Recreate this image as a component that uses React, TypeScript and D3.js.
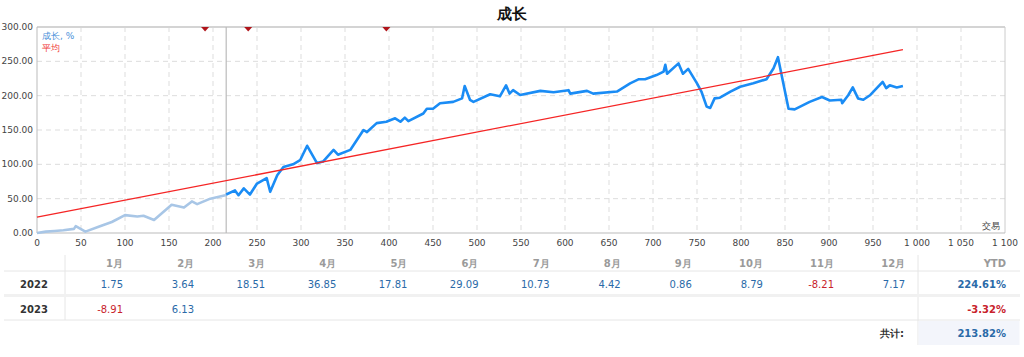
import React from "react";
import * as d3 from "d3";

const title = "成长";
const trades = [0, 10, 20, 30, 42, 44, 48, 55, 70, 85, 100, 114, 121, 133, 153, 167, 176, 182, 197, 214, 215, 225, 229, 235, 242, 250, 261, 265, 273, 280, 291, 299, 307, 318, 325, 337, 342, 356, 371, 375, 386, 397, 407, 413, 418, 422, 439, 443, 450, 458, 473, 483, 486, 492, 496, 515, 526, 533, 537, 541, 549, 572, 587, 604, 606, 625, 632, 659, 674, 684, 691, 704, 712, 714, 716, 729, 734, 740, 750, 755, 761, 765, 770, 776, 788, 799, 814, 829, 837, 842, 854, 861, 878, 892, 901, 914, 915, 922, 927, 933, 939, 947, 961, 965, 969, 977, 984];
const growth = [0, 2, 3, 4, 6, 10, 7, 2, 9, 16, 26, 24, 25, 19, 41, 37, 46, 42, 50, 55, 56, 62, 55, 65, 56, 72, 80, 60, 84, 96, 100, 106, 127, 102, 104, 121, 114, 121, 150, 147, 160, 162, 167, 162, 168, 163, 174, 181, 181, 189, 191, 196, 214, 194, 191, 202, 199, 215, 203, 208, 201, 207, 205, 208, 203, 207, 203, 206, 218, 224, 224, 230, 235, 245, 232, 247, 232, 239, 218, 206, 184, 182, 196, 197, 206, 213, 218, 224, 240, 256, 181, 180, 191, 198, 193, 194, 189, 201, 212, 196, 194, 201, 220, 211, 215, 212, 214];
const splitTrade = 215;
const avgTrades = [0, 984];
const avgValues = [23, 267];
const markerTrades = [191, 240, 397];
const xTicks = [0, 50, 100, 150, 200, 250, 300, 350, 400, 450, 500, 550, 600, 650, 700, 750, 800, 850, 900, 950, 1000, 1050, 1100];
const yTicks = [0, 50, 100, 150, 200, 250, 300];

const months = ["1月", "2月", "3月", "4月", "5月", "6月", "7月", "8月", "9月", "10月", "11月", "12月"];
const years = ["2022", "2023"];
const values2022 = ["1.75", "3.64", "18.51", "36.85", "17.81", "29.09", "10.73", "4.42", "0.86", "8.79", "-8.21", "7.17"];
const values2023 = ["-8.91", "6.13"];
const ytd = ["224.61%", "-3.32%"];
const totalLabel = "共计:";
const totalValue = "213.82%";

const FONT = "Tahoma, 'DejaVu Sans', sans-serif";
const BLUE_TXT = "#2a6aa8";
const RED_TXT = "#c8232c";

export default function App() {
  const W = 1024, H = 357;
  const x = d3.scaleLinear().domain([0, 1100]).range([37, 1005]);
  const y = d3.scaleLinear().domain([0, 300]).range([233, 27]);
  const pts = trades.map((t, i) => [t, growth[i]] as [number, number]);
  const before = pts.filter((p) => p[0] <= splitTrade);
  const after = pts.filter((p) => p[0] >= splitTrade);
  const line = d3.line<[number, number]>().x((d) => x(d[0])).y((d) => y(d[1]));
  const avgPts = avgTrades.map((t, i) => [t, avgValues[i]] as [number, number]);
  const fmtX = (v: number) => (v >= 1000 ? `${Math.floor(v / 1000)} ${String(v % 1000).padStart(3, "0")}` : String(v));

  const colRight = (i: number) => 123 + i * 71.1;
  const rows = [values2022, values2023];
  const rowY = [284, 309];

  return (
    <svg width={W} height={H} style={{ position: "absolute", left: 0, top: 0, fontFamily: FONT }}>
      <rect x={0} y={0} width={W} height={H} fill="#fff" />
      <text x={512} y={19} textAnchor="middle" fontSize={15} fontWeight="bold" fill="#111">{title}</text>
      {/* grid */}
      {xTicks.slice(1, -1).map((t) => (
        <line key={"gx" + t} x1={x(t)} x2={x(t)} y1={y(300)} y2={y(0)} stroke="#ddd" strokeDasharray="5,4" />
      ))}
      {yTicks.slice(1, -1).map((t) => (
        <line key={"gy" + t} x1={x(0)} x2={x(1100)} y1={y(t)} y2={y(t)} stroke="#ddd" strokeDasharray="5,4" />
      ))}
      {/* frame */}
      <line x1={x(0)} x2={x(1100)} y1={y(300)} y2={y(300)} stroke="#d4d4d4" strokeWidth={2} />
      <line x1={x(1100)} x2={x(1100)} y1={y(300)} y2={y(0)} stroke="#ccc" />
      <line x1={x(0)} x2={x(0)} y1={y(300)} y2={y(0)} stroke="#bbb" />
      <line x1={x(0)} x2={x(1100)} y1={y(0)} y2={y(0)} stroke="#bbb" />
      {/* ticks */}
      {xTicks.map((t) => (
        <text key={"tx" + t} x={x(t)} y={246} textAnchor="middle" fontSize={9} fill="#444">{fmtX(t)}</text>
      ))}
      {yTicks.map((t) => (
        <text key={"ty" + t} x={33} y={y(t) + 3} textAnchor="end" fontSize={9} fill="#444">{t.toFixed(2)}</text>
      ))}
      {/* split line */}
      <line x1={x(splitTrade)} x2={x(splitTrade)} y1={y(300)} y2={y(0)} stroke="#bbb" strokeWidth={1.2} />
      {/* series */}
      <path d={line(before) || ""} fill="none" stroke="#a8c6e6" strokeWidth={2.6} strokeLinejoin="round" />
      <path d={line(after) || ""} fill="none" stroke="#1a8cf5" strokeWidth={2.6} strokeLinejoin="round" />
      <path d={line(avgPts) || ""} fill="none" stroke="#f52525" strokeWidth={1.3} />
      {/* markers */}
      {markerTrades.map((t) => (
        <path key={"m" + t} d={`M${x(t) - 4},${y(300)} L${x(t) + 4},${y(300)} L${x(t)},${y(300) + 4.5} Z`} fill="#b0141a" />
      ))}
      {/* legend */}
      <text x={42} y={39} fontSize={9} fill="#4a90d9">成长, %</text>
      <text x={42} y={51} fontSize={9} fill="#f03a3a">平均</text>
      <text x={1000} y={229} textAnchor="end" fontSize={9} fill="#444">交易</text>

      {/* table */}
      <line x1={65} x2={65} y1={255} y2={320} stroke="#e6e6e6" />
      <line x1={918} x2={918} y1={255} y2={345} stroke="#e6e6e6" />
      <rect x={918.5} y={321} width={101} height={24} fill="#f3f5fb" />
      <line x1={4} x2={1020} y1={271} y2={271} stroke="#e6e6e6" />
      <rect x={4} y={294} width={1016} height={3} fill="#f1f1f1" />
      <line x1={4} x2={1020} y1={320} y2={320} stroke="#e6e6e6" />
      {months.map((m, i) => (
        <text key={"mh" + i} x={colRight(i)} y={267} textAnchor="end" fontSize={10} fontWeight="bold" fill="#9a9a9a">{m}</text>
      ))}
      <text x={1006} y={267} textAnchor="end" fontSize={10} fontWeight="bold" fill="#9a9a9a">YTD</text>
      {years.map((yr, r) => (
        <text key={"yr" + yr} x={34} y={rowY[r] + 4} textAnchor="middle" fontSize={10} fontWeight="bold" fill="#333">{yr}</text>
      ))}
      {rows.map((vals, r) =>
        vals.map((v, i) => (
          <text key={`v${r}-${i}`} x={colRight(i)} y={rowY[r] + 4} textAnchor="end" fontSize={10} fill={v.startsWith("-") ? RED_TXT : BLUE_TXT}>{v}</text>
        ))
      )}
      {ytd.map((v, r) => (
        <text key={"ytd" + r} x={1006} y={rowY[r] + 4} textAnchor="end" fontSize={10} fontWeight="bold" fill={v.startsWith("-") ? RED_TXT : BLUE_TXT}>{v}</text>
      ))}
      <text x={904} y={337} textAnchor="end" fontSize={10} fontWeight="bold" fill="#333">{totalLabel}</text>
      <text x={1006} y={337} textAnchor="end" fontSize={10} fontWeight="bold" fill={BLUE_TXT}>{totalValue}</text>
    </svg>
  );
}
